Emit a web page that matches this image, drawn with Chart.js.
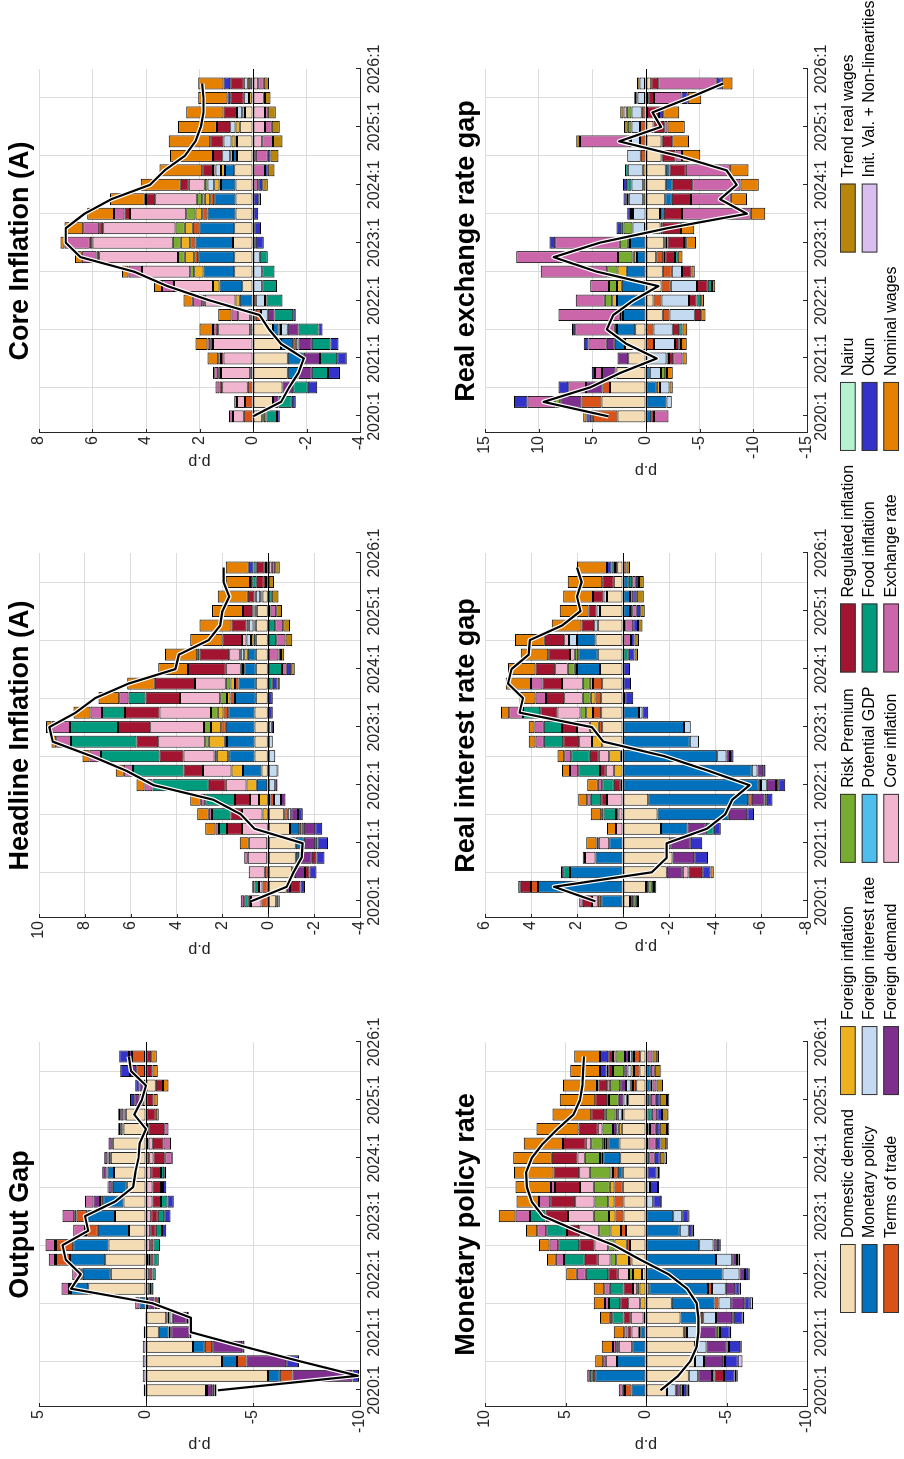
<!DOCTYPE html>
<html><head><meta charset="utf-8">
<script src="https://cdn.jsdelivr.net/npm/chart.js@4.4.1/dist/chart.umd.min.js"></script>
<style>
html,body{margin:0;padding:0;background:#fff;overflow:hidden;width:904px;height:1459px;}
#fig{position:absolute;left:0;top:0;width:1459px;height:904px;transform-origin:0 0;transform:translateY(1459px) rotate(-90deg);background:#fff;}
#fig canvas{position:absolute;}
</style></head><body><div id="fig"></div>
<script>
// ---------- categories / ticks ----------
const quarterIndex = Array.from({length:24},(_,i)=>i); // 2020:1 ... 2025:4
const xTickValues = [0,4,8,12,16,20,24];
const xTickLabels = ['2020:1','2021:1','2022:1','2023:1','2024:1','2025:1','2026:1'];
const seriesNames = ['Domestic demand','Monetary policy','Terms of trade','Foreign inflation','Foreign interest rate','Foreign demand','Risk Premium','Potential GDP','Core inflation','Regulated inflation','Food inflation','Exchange rate','Nairu','Okun','Nominal wages','Trend real wages','Init. Val. + Non-linearities'];
const seriesColors = ['#F4DCB4','#0072BD','#D95319','#EDB120','#C3DAF0','#7E2F8E','#77AC30','#4DBEEE','#F2B5CF','#A2142F','#009B7D','#CC66AA','#B5F2D2','#3333CC','#E68000','#B8860B','#D9BEEF'];

// ---------- Output Gap ----------
const og_dd   = [-2.8,-5.7,-3.55,-2.2,-0.6,-0.95,0,2.7,1.65,1.9,1.75,0.8,1.45,1.05,0.9,1.5,1.65,1.55,1.05,0.95,0.15,-0.45,0.05,0.05];
const og_mp   = [0,-0.55,-0.7,-0.55,-0.45,-0.05,0.3,0.8,1.3,1.65,1.65,1.45,1.3,0.95,0.65,0.3,0.1,0.05,0.05,0.05,0,0,0,0];
const og_tot  = [-0.05,-0.6,-0.45,-0.35,-0.08,-0.1,0,0.05,0.05,0.65,0.8,0.5,0.5,0.15,0.05,0.05,-0.15,-0.12,0,0,0.15,0.1,0.4,0.6];
const og_fint = [0,0,0,0,-0.05,-0.15,-0.1,-0.15,-0.15,-0.1,0,0,0,0,0,0,0.05,0,0.1,0.05,0,0,0,0];
const og_fd   = [-0.25,-2.8,-1.85,-1.4,-0.85,-0.65,-0.3,0.05,0.05,0.05,0.05,0.05,0.1,0.3,0.15,0.2,0.15,0.15,0.1,0.15,0.25,0.2,0.3,0.15];
const og_rp   = [0,0,0,0,0,0,0,0,0,0,0,0.05,0,0,0,0,0,0,0,0,0,0,0,0];
const og_core = [0,0,0,0,0,0,0,0,0,-0.1,-0.2,-0.2,-0.25,-0.3,-0.3,-0.25,-0.2,-0.2,-0.1,0,0,0,0,0];
const og_reg  = [-0.1,0,0,0,0,0,-0.15,-0.1,-0.15,-0.15,-0.15,-0.25,-0.3,-0.4,-0.4,-0.45,-0.5,-0.5,-0.75,-0.45,-0.35,-0.35,-0.3,-0.25];
const og_food = [0,0,0,0,0,0,-0.1,-0.1,-0.15,-0.25,-0.3,-0.3,-0.3,-0.3,-0.1,-0.15,-0.05,0,0,0,0,0,0,0];
const og_er   = [0,0,0,0,0,0,0.2,0.35,0.4,0.3,0.45,0.55,0.55,0.4,0.05,0,-0.3,-0.35,-0.2,0,0,0,0,0];
const og_okun = [-0.1,-0.3,-0.6,-0.1,-0.1,-0.1,0,0,0,0,0,-0.2,-0.3,-0.3,-0.15,-0.1,-0.05,0,0,0.1,0.2,0.2,0.45,0.45];
const og_nomw = [0,0,0,0,0,0,0,0,0,0,0,0,0,0,0,0,0,0,0,-0.15,-0.2,-0.25,-0.25,-0.25];
const og_init = [0.1,0.15,0.15,0.15,0.1,0.05,0,0,0,0,0,0,0,0,0,0,0,0,0,0,0,0,0,0];
const og_total= [-3.36,-9.9,-7.2,-4.6,-2.1,-2.1,-0.3,3.5,3.05,3.75,3.9,2.7,2.85,1.45,0.6,0.5,0.35,0.3,0.0,0.55,0.2,0.0,0.7,0.8];

// ---------- Headline Inflation (A) ----------
const hi_dd   = [-0.35,-0.8,-1.05,-1.2,-1.2,-0.95,-0.7,-0.1,0.05,0.3,0.6,0.6,0.6,0.6,0.55,0.55,0.55,0.55,0.55,0.55,0.5,0.25,0.1,0.1];
const hi_mp   = [0,0,-0.05,-0.15,-0.35,-0.4,0,0,0.45,0.8,1.1,1.2,1.25,1.15,0.9,0.75,0.5,0.35,0.1,0.05,0.05,0.05,0,0];
const hi_tot  = [0.3,0.25,0.15,0.05,0.05,-0.1,-0.15,-0.15,0,0,0.05,0.1,0.2,0.2,0.2,0.15,0,0,0,0,0,0,0.1,0];
const hi_finfl= [0,0,0,0,0,0,0.25,0.4,0.45,0.5,0.5,0.7,0.45,0.25,0.15,0.2,0,0.15,0.1,0.05,0.05,0.05,0,0];
const hi_fint = [0,0,-0.05,-0.05,0,-0.1,-0.15,-0.3,-0.3,-0.4,-0.3,-0.2,-0.15,0,0,0,0.05,0.15,0.2,0.2,0.05,0.2,0,0.05];
const hi_fd   = [0,-0.15,-0.45,-0.5,-0.5,-0.5,-0.3,-0.2,-0.1,-0.05,0,0,0,0,0,0,0,0,0,0,0,0,0,0];
const hi_rp   = [-0.1,0,0,0,0,0,0,0,0,0,0.1,0.15,0.3,0.3,0.3,0.2,0.1,0.05,0,0,0,0,0,0];
const hi_core = [0.45,0.15,0.7,0.85,0.8,1.15,0.9,0.4,0.9,1.25,1.35,2.05,2.35,2.25,1.75,1.35,0.65,0.45,0.2,0.1,0.05,0.05,0,-0.15];
const hi_reg  = [0.1,-0.45,-0.2,-0.2,0,0.65,0.5,0.65,0.75,0.85,1.05,0.95,1.4,1.5,1.5,1.75,1.65,1.3,0.85,0.65,0.4,0.3,0.3,0.35];
const hi_food = [0.2,0.2,0,0,-0.1,0.35,0.8,1.3,2.45,2.2,2.55,2.85,2.1,1.0,0.75,-0.2,-0.6,0.1,-0.35,-0.3,-0.1,-0.15,0.2,0.15];
const hi_er   = [0.15,0.1,0,0.15,0,0.15,0.15,0.2,0.35,0.4,0.5,0.65,0.8,0.5,0.4,0,-0.2,-0.45,-0.4,-0.35,-0.25,0,0,-0.15];
const hi_okun = [-0.05,-0.2,-0.3,-0.35,-0.45,-0.3,-0.2,0,0,0,0,0,-0.1,-0.2,-0.2,-0.2,-0.2,-0.1,0,0,0,0,0.1,0.2];
const hi_nomw = [0,0,0,0,0.4,0.45,0.5,0.45,0.35,0.35,0.3,0.2,0.25,0.75,0.9,1.2,1.3,1.4,1.4,1.4,1.35,1.3,1.05,1.0];
const hi_trw  = [0,0,0,0,0,0,0,0,0,0,0,0,0,0,0,-0.1,-0.15,-0.15,-0.3,-0.3,-0.25,-0.3,-0.25,-0.2];
const hi_total= [0.75,-0.8,-1.1,-1.45,-1.5,0.6,1.2,2.4,5.0,6.2,7.7,9.4,9.55,8.4,7.55,6.1,4.05,3.9,2.6,2.1,2.0,1.7,1.95,1.95];

// ---------- Core Inflation (A) ----------
const ci_dd   = [-0.35,-0.75,-1.1,-1.3,-1.3,-1.05,-0.75,-0.1,0,0.4,0.7,0.7,0.75,0.7,0.65,0.65,0.65,0.7,0.6,0.6,0.5,0.3,0.05,0];
const ci_mp   = [0,0,0,-0.4,-0.6,-0.45,-0.2,0,0.5,0.85,1.15,1.35,1.4,1.3,1.05,0.8,0.55,0.35,0.15,0.05,0,0,0,0];
const ci_tot  = [0.35,0.3,0.2,0.1,0,-0.1,-0.1,-0.2,-0.1,0,0,0.15,0.2,0.25,0.2,0.15,0.05,0,0,0,0,0,0,0.1];
const ci_finfl= [0,0,0,0,0,0,0.1,0.1,0.15,0.25,0.35,0.35,0.35,0.3,0.25,0.2,0.2,0.15,0.1,0.15,0.15,0.1,0.1,0.1];
const ci_fint = [0,0,0,0,0,-0.1,-0.25,-0.25,-0.35,-0.35,-0.35,-0.25,-0.1,0,0,0.1,0.25,0.2,0.3,0.3,0.2,0.2,0.2,0.15];
const ci_fd   = [-0.05,-0.2,-0.4,-0.5,-0.6,-0.5,-0.4,-0.25,-0.05,0,0,0,0,0,0,0,0,0,0,0,0,0,0,0];
const ci_rp   = [-0.1,0,0,0,0,0,0,0,0,0,0.15,0.25,0.3,0.35,0.35,0.2,0.1,0,0,0,0,0,0,0];
const ci_core = [0.4,0.3,0.95,1.1,1.1,1.5,1.2,0.45,1.15,1.45,1.8,2.95,3.0,2.7,2.1,1.55,0.6,0.1,-0.1,-0.35,-0.45,-0.45,-0.4,-0.2];
const ci_reg  = [0,0,0.1,0.1,0.1,0.1,0.1,0,0.1,0,0,0.1,0.1,0.15,0.2,0.35,0.3,0.4,0.35,0.5,0.5,0.5,0.5,0.5];
const ci_food = [-0.4,-0.5,-0.55,-0.6,-0.65,-0.7,-0.75,-0.7,-0.6,-0.55,-0.45,-0.3,0,-0.05,0,0,0,0,0,0,0,0,0,0];
const ci_er   = [0.15,0.1,0.15,0.15,0.1,0.1,0.1,0.25,0.35,0.45,0.5,0.55,0.95,0.6,0.4,0.05,-0.2,-0.45,-0.45,-0.4,-0.25,-0.1,-0.05,-0.2];
const ci_okun = [-0.1,-0.15,-0.35,-0.45,-0.35,-0.3,-0.15,-0.1,0,0,0,0,-0.3,-0.25,-0.2,-0.2,-0.15,-0.1,-0.1,0,0,0,0.1,0.25];
const ci_nomw = [0,0,0,0.05,0.4,0.45,0.5,0.5,0.35,0.3,0.25,0.25,0.15,0.7,1.0,1.3,1.5,1.6,1.6,1.55,1.45,1.4,1.1,0.95];
const ci_trw  = [0,0,0,0,0,0,0,0,0,0,0,0,0,0,0,-0.1,-0.2,-0.25,-0.3,-0.35,-0.3,-0.3,-0.2,-0.2];
const ci_total= [0.0,-1.05,-1.35,-1.7,-1.9,-1.05,-0.6,-0.25,1.6,3.2,4.45,6.45,7.0,7.0,6.3,5.3,3.85,3.3,2.55,2.15,1.95,1.85,1.85,1.9];

// ---------- Monetary policy rate ----------
const mp_dd   = [-1.3,-2.65,-3.05,-3.05,-2.35,-2.15,-1.6,-0.2,0.25,0.9,1.0,1.25,1.4,1.4,1.45,1.45,1.6,1.65,1.5,1.4,1.1,0.6,0.4,0.35];
const mp_mp   = [0.9,3.15,1.8,0.85,0.35,-1.25,-2.65,-3.65,-4.75,-4.35,-3.3,-2.1,-1.7,0,0,0.3,1.05,0.7,-0.15,-0.1,-0.2,-0.3,-0.3,-0.05];
const mp_tot  = [0.4,0.15,0,-0.1,-0.2,-0.15,-0.25,-0.25,0,0.15,0.2,0.3,0.5,0.55,0.5,0.3,0.1,0.05,0,0,0,0.2,0.35,0.4];
const mp_finfl= [0,0,0,0,0.1,0.15,0.35,0.4,0.55,0.8,0.75,0.65,0.4,0.4,0.3,0.15,0.1,0.1,0.2,0.1,0.1,0.15,0.15,0.1];
const mp_fint = [-0.55,-0.6,-0.55,-0.6,-0.75,-0.8,-0.8,-0.85,-1.05,-1.0,-0.9,-0.55,-0.55,-0.45,-0.25,0,0,0.05,0.15,0.25,0.2,0.3,0.25,0.2];
const mp_fd   = [-0.25,-0.85,-1.2,-1.25,-1.1,-1.0,-0.8,-0.6,-0.35,-0.3,-0.2,0,0,0,0,0,0,0.1,0.2,0.15,0.3,0.35,0.2,0.25];
const mp_rp   = [-0.2,-0.15,-0.1,-0.15,-0.2,-0.1,0,0.15,0.25,0.35,0.4,0.7,0.95,0.85,1.0,1.3,0.95,0.75,0.65,0.6,0.6,0.65,0.7,0.6];
const mp_core = [0,0,0.7,0.85,0.45,0.8,0.75,0.25,0.7,0.8,0.85,1.25,1.6,1.2,0.85,0.65,0.45,0.35,0.3,0.1,0.1,0.15,0,0.15];
const mp_reg  = [0.15,-0.6,0,0.15,0.25,0.45,0.5,0.6,0.6,0.8,0.95,0.75,1.4,1.55,1.55,1.6,1.6,1.4,1.2,0.8,0.75,0.55,0.3,0.3];
const mp_food = [0,0.2,0,0,0,0.7,0.7,0.85,1.4,1.3,1.3,1.3,0.95,0,0,-0.1,-0.2,-0.15,-0.1,-0.25,-0.1,-0.1,0.1,-0.05];
const mp_er   = [0.25,0.15,0.15,0.2,0.2,0.15,0.25,0.35,0.55,0.5,0.55,0.55,0.9,0.7,0.25,0,-0.35,-0.45,-0.35,-0.35,-0.3,-0.25,-0.25,-0.3];
const mp_okun = [-0.2,-0.65,-0.8,-0.7,-0.6,-0.55,-0.35,-0.25,-0.2,-0.1,-0.15,-0.25,-0.4,-0.5,-0.5,-0.55,-0.3,-0.3,-0.25,-0.3,-0.25,0.1,0.4,0.5];
const mp_nomw = [0,0,0.5,0.7,0.65,0.6,0.7,0.65,0.65,0.55,0.65,0.7,1.05,1.4,2.2,2.45,2.4,2.45,2.6,2.4,2.2,2.1,1.85,1.6];
const mp_trw  = [-0.1,-0.1,0,0,0,0,0,0,0,0,0,0,0,0,0,-0.15,-0.3,-0.35,-0.45,-0.35,-0.45,-0.4,-0.35,-0.3];
const mp_init = [-0.1,-0.1,-0.3,-0.1,-0.1,-0.1,-0.2,-0.1,-0.1,-0.1,-0.1,-0.1,-0.05,-0.05,-0.05,-0.05,-0.15,-0.1,-0.15,-0.05,-0.15,0,-0.05,-0.1];
const mp_total= [-0.9,-2.0,-2.75,-3.15,-3.25,-3.25,-3.15,-2.55,-1.4,0.35,2.0,4.3,6.4,7.1,7.4,7.45,7.1,6.4,5.5,4.5,4.1,3.95,3.9,3.85];

// ---------- Real interest rate gap ----------
const rg_dd   = [-0.3,-1.0,-1.9,-2.15,-2.05,-1.65,-1.5,-1.1,0,0,0.1,0.9,0.9,0.95,0.95,0.9,1.0,1.1,1.2,1.1,1.0,0.7,0.4,0.25];
const rg_mp   = [0.95,3.7,2.3,1.2,0.6,-1.15,-3.1,-4.35,-5.9,-5.6,-4.1,-2.9,-2.65,-0.7,-0.1,0,1.0,0.85,0.8,0,-0.3,-0.3,-0.25,0];
const rg_tot  = [0.15,0.3,0,0,0,0,0,-0.15,-0.1,0,0,0,0.15,0.35,0.25,0.4,0.1,0,0,0,0,0,0,-0.15];
const rg_finfl= [0,0,0,0,0,0,0,0,0.1,0.4,0.5,0.45,0.4,0.3,0.2,0.15,0,0,0,0,0,0,0,0];
const rg_fint = [0,0,0,0,0,0,0,0,-0.25,-0.25,-0.4,-0.4,-0.3,-0.15,0,0,0,0,0.35,0.15,0.15,0.15,0,0];
const rg_fd   = [-0.15,-0.1,-0.7,-0.95,-0.9,-0.8,-0.8,-0.55,-0.4,-0.25,-0.15,0,0,0,0,0,0,0,0,0,0,0,0,0];
const rg_rp   = [-0.1,-0.15,0,0,0,0,0,-0.1,-0.1,0,0,0,0,0.25,0.35,0.3,0.3,0.15,0,0,0,0,0,0];
const rg_core = [0.25,0,-0.25,0.45,0.45,0.3,0.2,0.7,0,0.35,0.45,0.55,0.55,1.0,0.8,0.9,0.55,0.2,0.2,0,0,0,0,0];
const rg_reg  = [0.4,0.45,-0.6,0,0.1,0,0.1,0.25,0.3,0.25,0.4,0.7,0.65,0.75,0.8,0.85,0.85,0.95,0.85,0.55,0.35,0.45,0.5,0.1];
const rg_food = [-0.1,-0.1,0.3,0,0,-0.35,0.55,0.45,0.5,0.95,0.8,0.85,0.8,0.75,0,0,0,-0.25,0,-0.1,-0.1,0,-0.15,0.15];
const rg_er   = [0.15,0.1,0.1,0.1,0,0,0.1,0.15,0.2,0.35,0.3,0.35,0.4,0.6,0.45,0.5,0,0,-0.35,-0.35,-0.2,-0.15,-0.15,0];
const rg_okun = [-0.05,0,-0.35,-0.6,-0.5,-0.3,-0.3,-0.25,-0.3,-0.1,-0.15,0,0,-0.25,-0.35,-0.35,-0.3,-0.25,-0.15,-0.2,-0.15,-0.15,-0.15,0.2];
const rg_nomw = [0,-0.1,-0.15,0,0.45,0.4,0.45,0.4,0.45,0.35,0.3,0.3,0.25,0.35,0.7,1.1,1.2,1.2,1.3,1.3,1.25,1.3,1.5,1.3];
const rg_trw  = [0,0,0,0,0,0,0,0,0,0,0,0,0,0,0,0,0,-0.15,-0.2,-0.2,-0.2,-0.3,-0.2,-0.15];
const rg_total= [1.2,3.0,-1.25,-1.9,-1.9,-3.65,-4.45,-4.75,-5.5,-3.7,-1.8,0.85,1.35,4.5,4.35,5.0,4.85,4.1,4.05,2.65,1.85,2.0,1.8,2.0];

// ---------- Real exchange rate gap ----------
const rx_dd   = [2.65,4.15,3.35,2.75,1.65,1.95,1.0,-1.55,-0.7,-1.45,-1.55,-0.95,-1.7,-1.35,-1.3,-1.8,-1.85,-1.85,-1.45,-1.45,-0.7,-0.1,-0.2,-0.5];
const rx_mp   = [-0.5,-1.9,-1.0,-0.35,0,0.95,1.7,2.15,2.7,2.25,1.8,0.85,1.5,0.1,-0.35,-0.6,-0.65,-0.35,-0.1,-0.1,0,0,0,0];
const rx_tot  = [2.3,1.85,0.7,0.1,0,-0.75,-0.7,-0.65,-0.75,-0.85,-0.85,-0.65,-0.15,-0.2,0,0,0,0,0.5,0.55,0.55,0.4,0.1,0.1];
const rx_finfl= [0,0,-0.3,0,0,0,0,0,0.45,0.45,0.85,0.3,0,0,0,0.25,0.25,0.3,0,0,0,0,0,0];
const rx_fint = [0,-0.5,-0.9,-1.05,-1.9,-1.95,-1.8,-2.35,-2.55,-2.45,-0.95,0.1,0.2,1.15,1.2,1.35,1.1,1.4,1.25,0.85,0.8,0.95,0.7,0.5];
const rx_fd   = [0.3,2.0,1.55,1.25,1.0,0.75,0.2,0.1,0,0,0,0,0,0,0,0,0,0,0,0,0,0,0,0];
const rx_rp   = [0,0.45,0,-0.4,-0.25,0,0,0.2,0.7,0.75,0.95,1.35,0.75,0.85,0,0,0,0,0,0.1,0.35,0.45,0,0];
const rx_core = [0,0,0,0,0,0,0,0,0,0,0,-0.2,-0.15,0,0,0,0,0,0,0,0,0.3,0.1,0];
const rx_reg  = [-0.25,0,0,-0.15,-0.4,-0.3,-0.6,-0.6,-0.7,-1.0,-0.9,-0.9,-1.55,-1.7,-1.7,-1.8,-1.8,-1.5,-1.2,-0.9,-1.0,-1.1,-0.55,-0.65];
const rx_food = [0,0,0,0,0,-0.25,-0.3,0,-0.45,-0.4,0,-0.25,-0.2,0.2,0.2,0.2,0.4,0.25,0,0,0,0,0,0];
const rx_er   = [-1.35,2.6,1.65,0.65,-0.85,1.7,3.7,5.7,2.7,1.75,6.2,9.5,6.0,0,-6.4,-3.7,-4.5,-4.1,-0.6,4.65,-0.3,0,-2.55,-5.45];
const rx_okun = [0.3,1.25,0.9,0.3,0,0.45,0.3,0,0,0,0,0,0.55,0.45,0.35,0.3,0.4,0,0,0,0,-0.4,-0.6,-0.45];
const rx_nomw = [0.3,0,-0.3,-0.55,-0.4,-0.55,-0.45,-0.4,-0.25,-0.3,-0.3,-0.45,-0.9,-1.25,-1.35,-1.5,-1.7,-1.75,-1.7,-1.55,-1.6,-1.5,-1.25,-1.0];
const rx_trw  = [0,0,0,0,0,0,0,0,0,0,0,0,0,0,0,0,0,0,0,0.35,0.35,0.3,0.2,0.25];
const rx_total= [3.5,9.55,5.2,2.4,-1.0,1.8,3.65,3.05,1.2,-1.15,4.6,8.6,4.3,-2.0,-9.4,-6.9,-8.45,-7.5,-3.0,2.5,-1.4,-0.6,-4.0,-7.2];

// ---------- panel definitions ----------
const panels = [
  {title:'Output Gap', col:0,row:0, min:-10,max:5,step:5,
   series:{'Domestic demand':og_dd,'Monetary policy':og_mp,'Terms of trade':og_tot,'Foreign interest rate':og_fint,'Foreign demand':og_fd,'Risk Premium':og_rp,'Core inflation':og_core,'Regulated inflation':og_reg,'Food inflation':og_food,'Exchange rate':og_er,'Okun':og_okun,'Nominal wages':og_nomw,'Init. Val. + Non-linearities':og_init}, total:og_total},
  {title:'Headline Inflation (A)', col:1,row:0, min:-4,max:10,step:2,
   series:{'Domestic demand':hi_dd,'Monetary policy':hi_mp,'Terms of trade':hi_tot,'Foreign inflation':hi_finfl,'Foreign interest rate':hi_fint,'Foreign demand':hi_fd,'Risk Premium':hi_rp,'Core inflation':hi_core,'Regulated inflation':hi_reg,'Food inflation':hi_food,'Exchange rate':hi_er,'Okun':hi_okun,'Nominal wages':hi_nomw,'Trend real wages':hi_trw}, total:hi_total},
  {title:'Core Inflation (A)', col:2,row:0, min:-4,max:8,step:2,
   series:{'Domestic demand':ci_dd,'Monetary policy':ci_mp,'Terms of trade':ci_tot,'Foreign inflation':ci_finfl,'Foreign interest rate':ci_fint,'Foreign demand':ci_fd,'Risk Premium':ci_rp,'Core inflation':ci_core,'Regulated inflation':ci_reg,'Food inflation':ci_food,'Exchange rate':ci_er,'Okun':ci_okun,'Nominal wages':ci_nomw,'Trend real wages':ci_trw}, total:ci_total},
  {title:'Monetary policy rate', col:0,row:1, min:-10,max:10,step:5,
   series:{'Domestic demand':mp_dd,'Monetary policy':mp_mp,'Terms of trade':mp_tot,'Foreign inflation':mp_finfl,'Foreign interest rate':mp_fint,'Foreign demand':mp_fd,'Risk Premium':mp_rp,'Core inflation':mp_core,'Regulated inflation':mp_reg,'Food inflation':mp_food,'Exchange rate':mp_er,'Okun':mp_okun,'Nominal wages':mp_nomw,'Trend real wages':mp_trw,'Init. Val. + Non-linearities':mp_init}, total:mp_total},
  {title:'Real interest rate gap', col:1,row:1, min:-8,max:6,step:2,
   series:{'Domestic demand':rg_dd,'Monetary policy':rg_mp,'Terms of trade':rg_tot,'Foreign inflation':rg_finfl,'Foreign interest rate':rg_fint,'Foreign demand':rg_fd,'Risk Premium':rg_rp,'Core inflation':rg_core,'Regulated inflation':rg_reg,'Food inflation':rg_food,'Exchange rate':rg_er,'Okun':rg_okun,'Nominal wages':rg_nomw,'Trend real wages':rg_trw}, total:rg_total},
  {title:'Real exchange rate gap', col:2,row:1, min:-15,max:15,step:5,
   series:{'Domestic demand':rx_dd,'Monetary policy':rx_mp,'Terms of trade':rx_tot,'Foreign inflation':rx_finfl,'Foreign interest rate':rx_fint,'Foreign demand':rx_fd,'Risk Premium':rx_rp,'Core inflation':rx_core,'Regulated inflation':rx_reg,'Food inflation':rx_food,'Exchange rate':rx_er,'Okun':rx_okun,'Nominal wages':rx_nomw,'Trend real wages':rx_trw}, total:rx_total}
];

// ---------- layout ----------
const FONT = '"Liberation Sans", Arial, Helvetica, sans-serif';
Chart.defaults.font.family = FONT;
Chart.defaults.color = '#262626';
const fig = document.getElementById('fig');
const colLeft = [52, 541, 1026], colWidth = [365, 365, 364];
const rowTop = [39, 485], rowHeight = [321, 322];
const WY = 52, TITLE_H = 39, XH = 30, PADR = 35;

function makeCanvas(left, top, w, h){
  const c = document.createElement('canvas');
  c.width = w; c.height = h;
  c.style.left = left + 'px'; c.style.top = top + 'px';
  c.style.width = w + 'px'; c.style.height = h + 'px';
  fig.appendChild(c);
  return c;
}
const mctx = document.createElement('canvas').getContext('2d');
mctx.font = '16px ' + FONT;
function yTickList(p){ const t=[]; for(let v=p.min; v<=p.max+1e-9; v+=p.step) t.push(v); return t; }

const innerTicks = {
  id:'innerTicks',
  afterDatasetsDraw(chart){
    const {ctx, chartArea:a, scales:{x, y}} = chart;
    ctx.save(); ctx.strokeStyle = '#262626'; ctx.lineWidth = 1; ctx.beginPath();
    x.ticks.forEach(t => { const px = Math.round(x.getPixelForValue(t.value)) + 0.5; ctx.moveTo(px, a.bottom); ctx.lineTo(px, a.bottom - 4); });
    y.ticks.forEach(t => { const py = Math.round(y.getPixelForValue(t.value)) + 0.5; ctx.moveTo(a.left, py); ctx.lineTo(a.left + 4, py); });
    ctx.stroke(); ctx.restore();
  }
};

panels.forEach(p => {
  const left = colLeft[p.col] - WY, top = rowTop[p.row] - TITLE_H;
  const w = WY + colWidth[p.col] + PADR, h = TITLE_H + rowHeight[p.row] + XH;
  const canvas = makeCanvas(left, top, w, h);
  const yt = yTickList(p);
  const maxLab = Math.max(...yt.map(v => mctx.measureText(String(v)).width));
  const titlePad = Math.max(0, WY - 3 - maxLab - 11 - 9.6);
  const datasets = [];
  seriesNames.forEach((name, k) => {
    const arr = p.series[name];
    if (!arr) return;
    datasets.push({
      type:'bar', label:name,
      data: arr.map((v, i) => ({x: quarterIndex[i], y: v})).filter(d => d.y !== 0),
      backgroundColor: seriesColors[k], borderColor:'#000', borderWidth:1, borderSkipped:false,
      barPercentage:0.83, categoryPercentage:1, stack:'contrib', order:0
    });
  });
  const totalData = p.total.map((v, i) => ({x: quarterIndex[i], y: v}));
  datasets.push({type:'line', label:'halo', data: totalData, borderColor:'#fff', borderWidth:4.6, pointRadius:0, tension:0, stack:'halo', order:-1, borderJoinStyle:'round'});
  datasets.push({type:'line', label:'total', data: totalData, borderColor:'#000', borderWidth:2.2, pointRadius:0, tension:0, stack:'total', order:-2, borderJoinStyle:'round'});

  new Chart(canvas, {
    type:'bar',
    data:{datasets},
    options:{
      responsive:false, animation:false, devicePixelRatio:1,
      layout:{padding:{left:0, right:PADR, top:0, bottom:0}},
      plugins:{
        legend:{display:false}, tooltip:{enabled:false},
        title:{display:true, text:p.title, color:'#000', fullSize:false,
               font:{size:27, weight:'bold', family:FONT}, padding:{top:4, bottom:2.6}}
      },
      scales:{
        x:{type:'linear', min:-1.15, max:24, stacked:true, offset:false,
           afterBuildTicks: s => { s.ticks = xTickValues.map(v => ({value:v})); },
           afterFit: s => { s.height = XH; },
           ticks:{callback: v => xTickLabels[xTickValues.indexOf(v)], font:{size:16}, color:'#262626', padding:5, maxRotation:0, minRotation:0, autoSkip:false},
           grid:{color:'#dcdcdc', drawTicks:false, lineWidth:1},
           border:{display:true, color:'#262626', width:1}},
        y:{type:'linear', min:p.min, max:p.max, stacked:true,
           afterBuildTicks: s => { s.ticks = yt.map(v => ({value:v})); },
           afterFit: s => { s.width = WY; },
           ticks:{callback: v => String(v), font:{size:16}, color:'#262626', padding:3},
           grid:{color: c => (c.tick && c.tick.value === 0) ? '#000' : '#dcdcdc', drawTicks:false, lineWidth:1},
           border:{display:true, color:'#262626', width:1},
           title:{display:true, text:'p.p', font:{size:16}, color:'#262626', padding:{top:titlePad, bottom:0}}}
      }
    },
    plugins:[innerTicks]
  });
});

// ---------- legend ----------
const legendPlugin = {
  id:'figLegend',
  afterDraw(chart){
    const ctx = chart.ctx, ds = chart.data.datasets;
    const rowsY = [10, 31.7, 53.3], BW = 69, BH = 15.7, GAP = 6, COLGAP = 14;
    ctx.save(); ctx.font = '16px ' + FONT; ctx.textBaseline = 'middle'; ctx.textAlign = 'left';
    let x = 146;
    for (let c = 0; c * 3 < ds.length; c++){
      let maxW = 0;
      for (let r = 0; r < 3; r++){
        const i = c * 3 + r; if (i >= ds.length) break;
        const d = ds[i];
        ctx.fillStyle = d.backgroundColor; ctx.fillRect(x, rowsY[r], BW, BH);
        ctx.strokeStyle = '#333'; ctx.lineWidth = 1; ctx.strokeRect(x + 0.5, rowsY[r] + 0.5, BW - 1, BH - 1);
        ctx.fillStyle = '#000'; ctx.fillText(d.label, x + BW + GAP, rowsY[r] + BH / 2 + 0.5);
        maxW = Math.max(maxW, ctx.measureText(d.label).width);
      }
      x += BW + GAP + maxW + COLGAP;
    }
    ctx.restore();
  }
};
const legendCanvas = makeCanvas(0, 830, 1459, 74);
new Chart(legendCanvas, {
  type:'bar',
  data:{labels:[], datasets: seriesNames.map((n, k) => ({label:n, data:[], backgroundColor:seriesColors[k]}))},
  options:{responsive:false, animation:false, devicePixelRatio:1,
    plugins:{legend:{display:false}, tooltip:{enabled:false}},
    scales:{x:{display:false}, y:{display:false}}},
  plugins:[legendPlugin]
});
</script></body></html>
